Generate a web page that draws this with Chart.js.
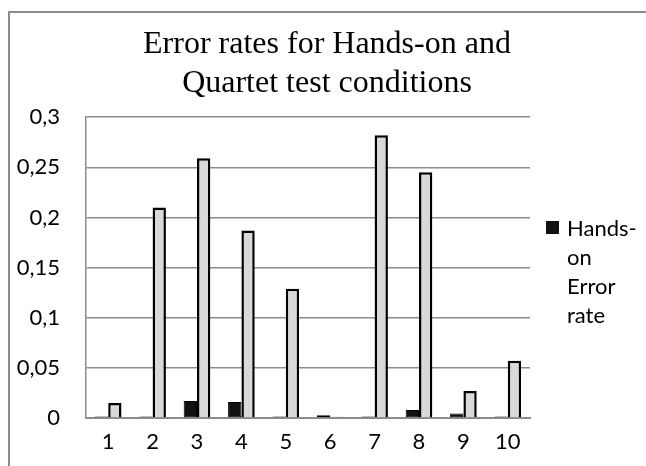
<!DOCTYPE html>
<html>
<head>
<meta charset="utf-8">
<script src="https://cdn.jsdelivr.net/npm/chart.js@4/dist/chart.umd.min.js"></script>
<style>
  html, body { margin: 0; padding: 0; background: #ffffff; }
  #wrap { position: relative; width: 646px; height: 466px; overflow: hidden; }
  #frame { position: absolute; left: 8px; top: 11px; width: 700px; height: 500px;
           border-left: 2px solid #8c8c8c; border-top: 2px solid #8c8c8c; box-sizing: border-box; }
  canvas { position: absolute; left: 0; top: 0; }
  #legend { position: absolute; left: 546px; top: 213px; font-family: Lato, "Open Sans", sans-serif;
            font-size: 22px; line-height: 29px; color: #000; }
  #legend .sw { position: absolute; left: 0; top: 8px; width: 13px; height: 13px; background: #111; }
  #legend .txt { margin-left: 21px; width: 90px; }
</style>
</head>
<body>
<div id="wrap">
  <div id="frame"></div>
  <canvas id="c" width="646" height="466"></canvas>
  <div id="legend"><div class="sw"></div><div class="txt">Hands-<br>on<br>Error<br>rate</div></div>
</div>
<script>
const titleLines = ["Error rates for Hands-on and", "Quartet test conditions"];
const categories = ["1", "2", "3", "4", "5", "6", "7", "8", "9", "10"];
const handsOnErrorRate = [0.0015, 0.0015, 0.017, 0.016, 0.0015, 0.0027, 0.0015, 0.008, 0.0045, 0.0015];
const quartetErrorRate = [0.015, 0.210, 0.259, 0.187, 0.129, 0.0013, 0.282, 0.245, 0.027, 0.057];
const yTicks = [0, 0.05, 0.1, 0.15, 0.2, 0.25, 0.3];
const yTickLabels = ["0", "0,05", "0,1", "0,15", "0,2", "0,25", "0,3"];

new Chart(document.getElementById('c'), {
  type: 'bar',
  data: {
    labels: categories,
    datasets: [
      { label: 'Hands-on Error rate', data: handsOnErrorRate, backgroundColor: '#111111',
        borderColor: '#000000', borderWidth: 1, borderSkipped: false,
        categoryPercentage: 0.6, barPercentage: 1.0 },
      { label: 'Quartet Error rate', data: quartetErrorRate, backgroundColor: '#d9d9d9',
        borderColor: '#000000', borderWidth: 2.5, borderSkipped: 'start',
        categoryPercentage: 0.6, barPercentage: 1.0 }
    ]
  },
  options: {
    responsive: false,
    animation: false,
    layout: { padding: { left: 8, right: 0, top: 0, bottom: 0 } },
    plugins: {
      legend: { display: false },
      tooltip: { enabled: false },
      title: {
        display: true,
        text: titleLines,
        color: '#000000',
        font: { family: '"Liberation Serif", "Times New Roman", serif', size: 32, weight: 'normal', lineHeight: 1.19 },
        padding: { top: 26, bottom: 15 }
      }
    },
    scales: {
      x: {
        grid: { display: false, drawTicks: false },
        border: { display: true, color: '#8c8c8c', width: 2 },
        ticks: { color: '#000000', padding: 11, font: { family: 'Lato, "Open Sans", sans-serif', size: 22 } },
        afterFit: s => { s.height = 48; }
      },
      y: {
        min: 0, max: 0.3,
        afterBuildTicks: s => { s.ticks = yTicks.map(v => ({ value: v })); },
        grid: { color: '#8c8c8c', lineWidth: 1.5, drawTicks: false },
        border: { display: true, color: '#8c8c8c', width: 1.5 },
        ticks: {
          color: '#000000', padding: 26,
          font: { family: 'Lato, "Open Sans", sans-serif', size: 22 },
          callback: v => { const i = yTicks.findIndex(t => Math.abs(t - v) < 1e-9); return i >= 0 ? yTickLabels[i] : ''; }
        },
        afterFit: s => { s.width = 78; }
      },
      yRight: {
        position: 'right',
        display: true,
        grid: { display: false, drawTicks: false },
        border: { display: false },
        ticks: { display: false },
        afterFit: s => { s.width = 116; }
      }
    }
  }
});
</script>
</body>
</html>
